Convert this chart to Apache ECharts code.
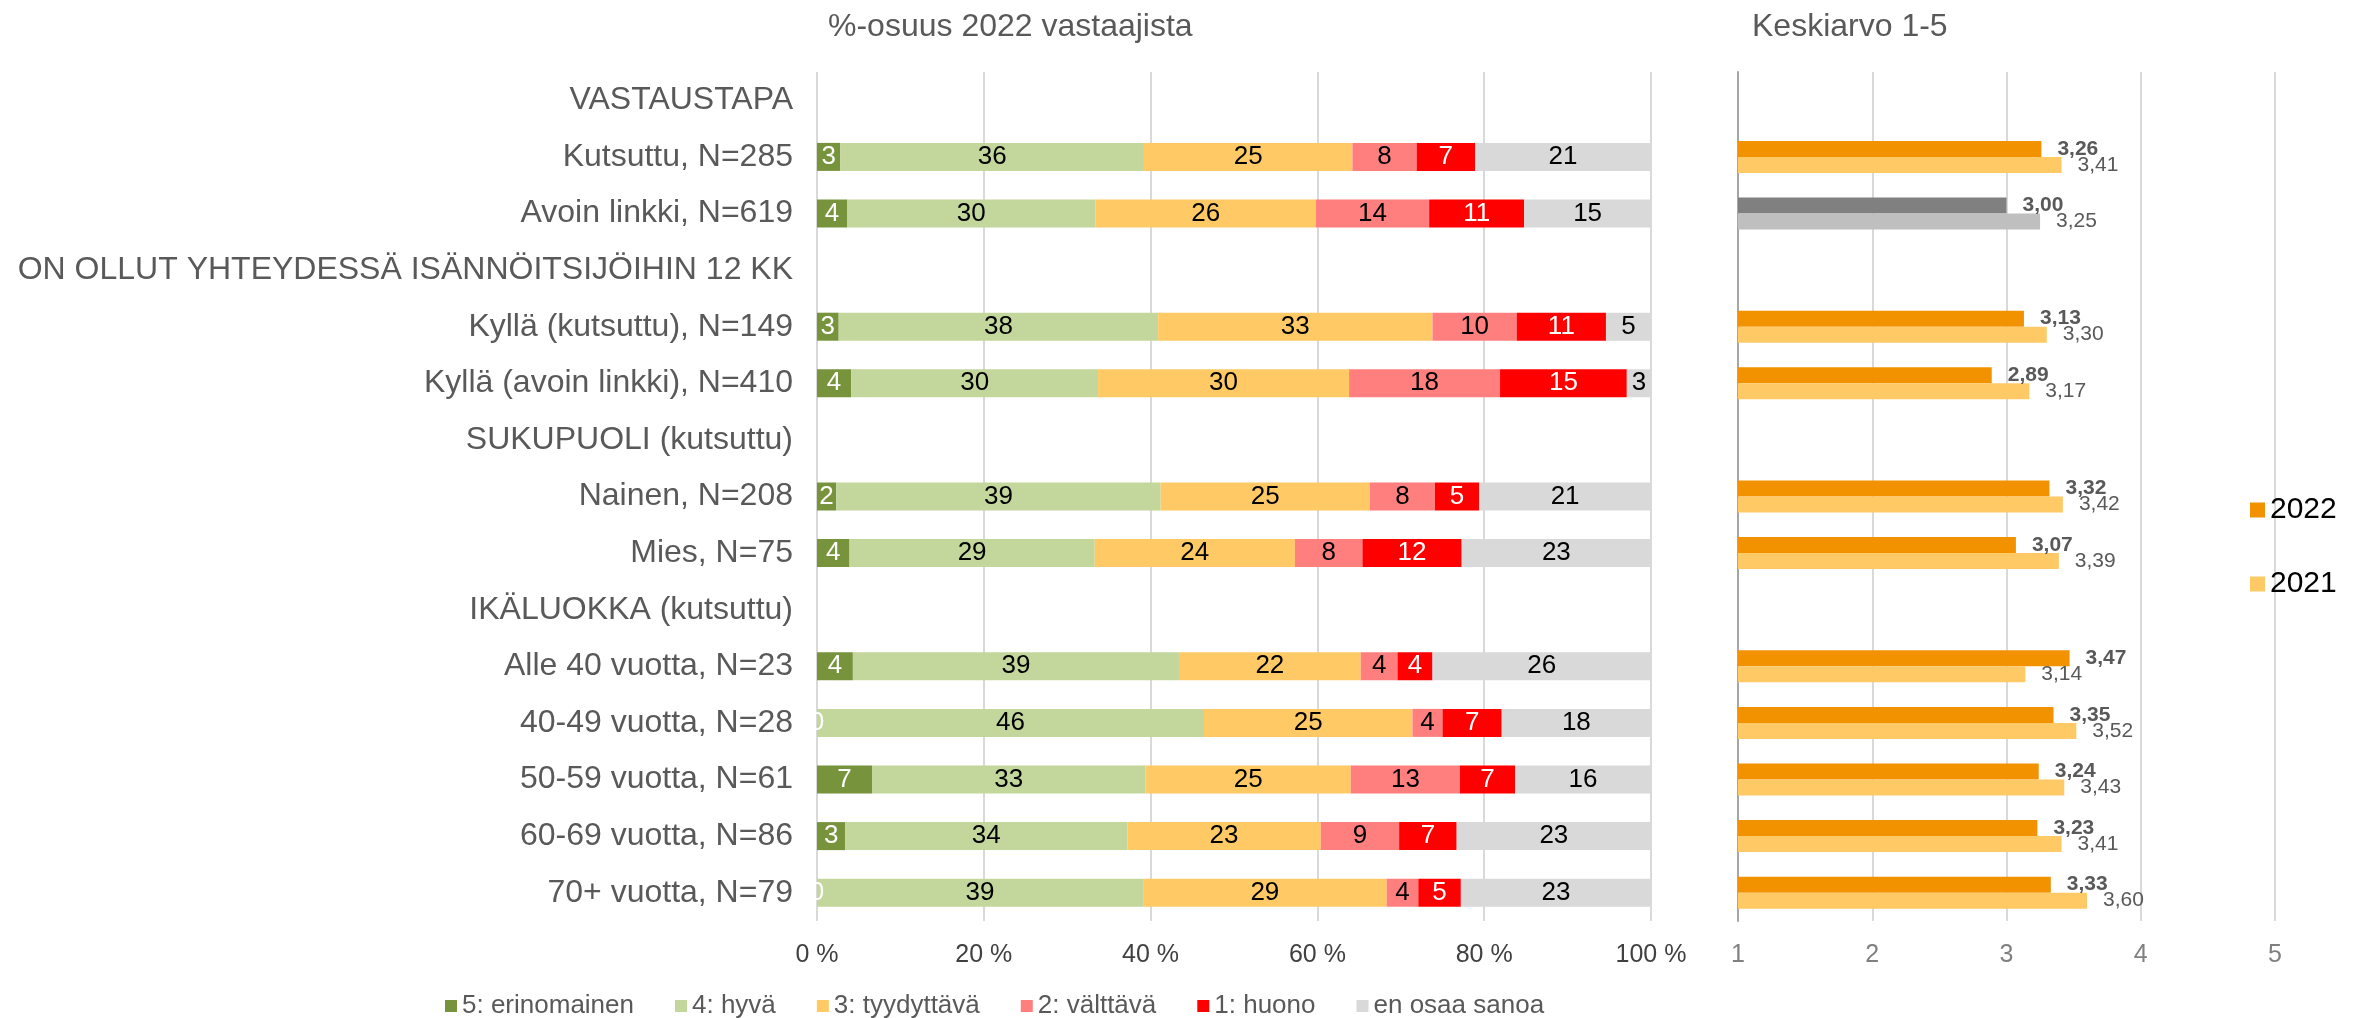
<!DOCTYPE html>
<html>
<head>
<meta charset="utf-8">
<script src="https://cdn.jsdelivr.net/npm/echarts@6/dist/echarts.min.js"></script>
<style>
  html, body { margin: 0; padding: 0; background: #fff; }
  #chart { width: 2369px; height: 1018px; }
</style>
</head>
<body>
<div id="chart"></div>
<script>
// rivit ylhäältä alas
var categories = [
  'VASTAUSTAPA', 'Kutsuttu, N=285', 'Avoin linkki, N=619',
  'ON OLLUT YHTEYDESSÄ ISÄNNÖITSIJÖIHIN 12 KK',
  'Kyllä (kutsuttu), N=149', 'Kyllä (avoin linkki), N=410',
  'SUKUPUOLI (kutsuttu)', 'Nainen, N=208', 'Mies, N=75',
  'IKÄLUOKKA (kutsuttu)', 'Alle 40 vuotta, N=23', '40-49 vuotta, N=28',
  '50-59 vuotta, N=61', '60-69 vuotta, N=86', '70+ vuotta, N=79'
];

// %-osuudet 2022
var s5 = [null, 2.8, 3.6, null, 2.6, 4.1, null, 2.3, 3.9, null, 4.3, 0, 6.6, 3.4, 0];
var s4 = [null, 36.4, 29.8, null, 38.3, 29.6, null, 38.9, 29.4, null, 39.1, 46.4, 32.8, 33.8, 39.1];
var s3 = [null, 25.0, 26.4, null, 32.9, 30.1, null, 25.1, 24.0, null, 21.8, 25.0, 24.6, 23.2, 29.2];
var s2 = [null, 7.7, 13.6, null, 10.1, 18.1, null, 7.8, 8.1, null, 4.4, 3.6, 13.1, 9.4, 3.8];
var s1 = [null, 7.0, 11.4, null, 10.7, 15.2, null, 5.3, 11.9, null, 4.2, 7.1, 6.6, 6.9, 5.1];
var eos = [null, 21.1, 15.2, null, 5.4, 2.9, null, 20.6, 22.7, null, 26.2, 17.9, 16.3, 23.3, 22.8];

// keskiarvot 1-5
var avg2022 = [null, 3.26, 3.00, null, 3.13, 2.89, null, 3.32, 3.07, null, 3.47, 3.35, 3.24, 3.23, 3.33];
var avg2021 = [null, 3.41, 3.25, null, 3.30, 3.17, null, 3.42, 3.39, null, 3.14, 3.52, 3.43, 3.41, 3.60];

var leftTicks = [0, 20, 40, 60, 80, 100];
var rightTicks = [1, 2, 3, 4, 5];

var font = "'Liberation Sans', Arial, sans-serif";
var grey = '#595959';
var openLinkRow = 2; // avoin linkki harmaalla

function stackSeries(name, data, color, labelColor) {
  return {
    name: name,
    type: 'bar',
    stack: 'osuus',
    xAxisIndex: 0,
    yAxisIndex: 0,
    barWidth: 28,
    data: data,
    itemStyle: { color: color },
    label: {
      show: true,
      position: 'inside',
      color: labelColor,
      fontSize: 26,
      fontFamily: font,
      formatter: function (p) { return Math.round(p.value); }
    }
  };
}

function avgSeries(name, data, color, rowColor, bold) {
  return {
    name: name,
    type: 'bar',
    xAxisIndex: 1,
    yAxisIndex: 1,
    barWidth: 16,
    barGap: '0%',
    clip: true,
    data: data.map(function (v, i) {
      if (i === openLinkRow) return { value: v, itemStyle: { color: rowColor } };
      return v;
    }),
    itemStyle: { color: color },
    label: {
      show: true,
      position: 'right',
      distance: 16,
      color: grey,
      fontSize: 21,
      fontWeight: bold ? 'bold' : 'normal',
      fontFamily: font,
      formatter: function (p) { return p.value == null ? '' : p.value.toFixed(2).replace('.', ','); }
    }
  };
}

var chart = echarts.init(document.getElementById('chart'));
chart.setOption({
  animation: false,
  textStyle: { fontFamily: font },
  title: [
    { text: '%-osuus 2022 vastaajista', left: 823, top: 6,
      textStyle: { fontSize: 32, fontWeight: 'normal', color: grey, fontFamily: font } },
    { text: 'Keskiarvo 1-5', left: 1747, top: 6,
      textStyle: { fontSize: 32, fontWeight: 'normal', color: grey, fontFamily: font } }
  ],
  legend: [
    {
      data: ['5: erinomainen', '4: hyvä', '3: tyydyttävä', '2: välttävä', '1: huono', 'en osaa sanoa'],
      left: 440, top: 988,
      itemWidth: 12, itemHeight: 12, itemGap: 41,
      icon: 'rect',
      textStyle: { fontSize: 26, color: grey, fontFamily: font }
    },
    {
      data: ['2022', '2021'],
      orient: 'vertical',
      left: 2245, top: 490,
      itemWidth: 15, itemHeight: 15, itemGap: 44,
      icon: 'rect',
      textStyle: { fontSize: 30, color: '#000', fontFamily: font }
    }
  ],
  grid: [
    { left: 817, right: 718, top: 72, bottom: 97 },
    { left: 1738, right: 94, top: 72, bottom: 97 }
  ],
  xAxis: [
    {
      gridIndex: 0, type: 'value', min: leftTicks[0], max: leftTicks[leftTicks.length - 1], interval: 20,
      axisLine: { show: false }, axisTick: { show: false },
      splitLine: { lineStyle: { color: '#D9D9D9', width: 2 } },
      axisLabel: { formatter: '{value} %', fontSize: 25, color: '#404040', margin: 22 }
    },
    {
      gridIndex: 1, type: 'value', min: rightTicks[0], max: rightTicks[rightTicks.length - 1], interval: 1,
      axisLine: { show: false }, axisTick: { show: false },
      splitLine: { lineStyle: { color: '#D9D9D9', width: 2 } },
      axisLabel: { fontSize: 25, color: '#808080', margin: 22 }
    }
  ],
  yAxis: [
    {
      gridIndex: 0, type: 'category', data: categories, inverse: true,
      axisLine: { show: false }, axisTick: { show: false },
      axisLabel: { fontSize: 32, color: grey, margin: 24 }
    },
    {
      gridIndex: 1, type: 'category', data: categories, inverse: true,
      axisLine: { show: true, lineStyle: { color: '#A6A6A6', width: 2 } },
      axisTick: { show: false },
      axisLabel: { show: false }
    }
  ],
  series: [
    stackSeries('5: erinomainen', s5, '#77933C', '#fff'),
    stackSeries('4: hyvä', s4, '#C3D69B', '#000'),
    stackSeries('3: tyydyttävä', s3, '#FFCA66', '#000'),
    stackSeries('2: välttävä', s2, '#FF7F7F', '#000'),
    stackSeries('1: huono', s1, '#FF0000', '#fff'),
    stackSeries('en osaa sanoa', eos, '#D9D9D9', '#000'),
    avgSeries('2022', avg2022, '#F39200', '#808080', true),
    avgSeries('2021', avg2021, '#FFCA66', '#BFBFBF', false)
  ]
});
</script>
</body>
</html>
